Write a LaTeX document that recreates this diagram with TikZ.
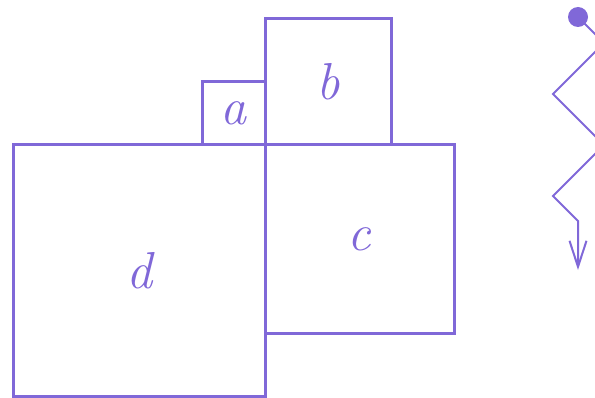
\documentclass[tikz,border=0pt]{standalone}
\usepackage{tikz}
\usetikzlibrary{positioning, arrows.meta}
\usepackage{amsmath, amssymb}
\definecolor{slate}{RGB}{128,104,216}

\begin{document}
\begin{tikzpicture}[x=1pt, y=1pt, line width=3pt, draw=slate, text=slate,
    sq/.style={draw, outer sep=0pt, inner sep=0pt, font=\fontsize{52}{52}\selectfont\itshape},
    spring/.style={line width=2pt, -{Straight Barb[length=26pt, width=17pt, line width=2pt]}}]
      \useasboundingbox (0,0) rectangle (595,397);
      \clip (0,0) rectangle (595,397);
      \node[sq, minimum size=252pt, anchor=south west] (d) at (13,0.5) {d};
      \node[sq, minimum size=189pt] (c) [below right=0pt and 0pt of d.north east] {c};
      \node[sq, minimum size=126pt] (b) [above right=0pt and 0pt of c.north west] {b};
      \node[sq, minimum size=63pt] (a) [above left=0pt and 0pt of b.south west] {a};

      \node[circle, fill=slate, minimum size=20pt, inner sep=0pt] (top) at (578,380) {};
      \coordinate (end) at (578,127);
      \draw[spring, slate] (top.center) -- ++(26,-26) -- ++(-51,-51) -- ++(51,-51)
      -- ++(-51,-51) -- ++(25,-25) -- (end);
    \end{tikzpicture}
\end{document}
